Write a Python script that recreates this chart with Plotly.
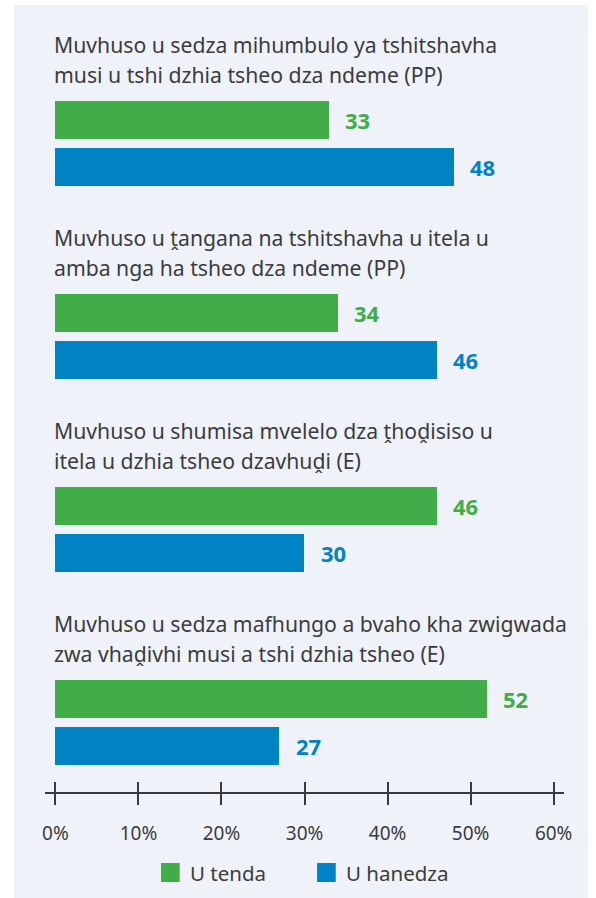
import plotly.graph_objects as go

# ---------------- data ----------------
title_line1 = [
    "Muvhuso u sedza mihumbulo ya tshitshavha",
    "Muvhuso u ṱangana na tshitshavha u itela u",
    "Muvhuso u shumisa mvelelo dza ṱhoḓisiso u",
    "Muvhuso u sedza mafhungo a bvaho kha zwigwada",
]
title_line2 = [
    "musi u tshi dzhia tsheo dza ndeme (PP)",
    "amba nga ha tsheo dza ndeme (PP)",
    "itela u dzhia tsheo dzavhuḓi (E)",
    "zwa vhaḓivhi musi a tshi dzhia tsheo (E)",
]
series_names = ["U tenda", "U hanedza"]
agree = [33, 34, 46, 52]
disagree = [48, 46, 30, 27]
tick_values = [0, 10, 20, 30, 40, 50, 60]
tick_labels = ["0%", "10%", "20%", "30%", "40%", "50%", "60%"]

# ---------------- style ----------------
GREEN = "#40ad49"
BLUE = "#0083c4"
TEXT = "#3c3c3c"
AXIS = "#3a3a3a"
PANEL = "#eff2f8"
FONT = "Noto Sans"
W, H = 596, 898
PLOT_BOTTOM = 792  # px from top where the x axis sits

n = len(agree)
step = 193
green_y = [120 + step * i for i in range(n)]
blue_y = [g + 46.5 for g in green_y]
t1_y = [44 + step * i for i in range(n)]
t2_y = [74 + step * i for i in range(n)]


def py(px):
    """figure pixel (from top) -> paper y"""
    return (PLOT_BOTTOM - px) / PLOT_BOTTOM


fig = go.Figure()
fig.add_trace(go.Bar(x=agree, y=green_y, orientation="h", width=38,
                     marker=dict(color=GREEN, line=dict(width=0)),
                     name=series_names[0], showlegend=False, hoverinfo="skip"))
fig.add_trace(go.Bar(x=disagree, y=blue_y, orientation="h", width=38,
                     marker=dict(color=BLUE, line=dict(width=0)),
                     name=series_names[1], showlegend=False, hoverinfo="skip"))
# invisible trace so the overlay axis (upward ticks) is drawn
fig.add_trace(go.Scatter(x=[None], y=[None], xaxis="x2", yaxis="y",
                         showlegend=False, hoverinfo="skip"))

TITLE_SIZE = 21.2
annotations = []
for i in range(n):
    annotations.append(dict(x=0, y=t1_y[i], xref="x", yref="y", text=title_line1[i],
                            showarrow=False, xanchor="left", yanchor="middle", xshift=-3,
                            font=dict(family=FONT, size=TITLE_SIZE, color=TEXT)))
    annotations.append(dict(x=0, y=t2_y[i], xref="x", yref="y", text=title_line2[i],
                            showarrow=False, xanchor="left", yanchor="middle", xshift=-3,
                            font=dict(family=FONT, size=TITLE_SIZE, color=TEXT)))
    annotations.append(dict(x=agree[i], y=green_y[i], xref="x", yref="y",
                            text="<b>%d</b>" % agree[i], showarrow=False,
                            xanchor="left", yanchor="middle", xshift=14,
                            font=dict(family=FONT, size=22, color=GREEN)))
    annotations.append(dict(x=disagree[i], y=blue_y[i], xref="x", yref="y",
                            text="<b>%d</b>" % disagree[i], showarrow=False,
                            xanchor="left", yanchor="middle", xshift=14,
                            font=dict(family=FONT, size=22, color=BLUE)))

# custom legend
legend_colors = [GREEN, BLUE]
legend_sq_x = [161, 320]
shapes = [dict(type="rect", xref="paper", yref="paper",
               x0=11 / W, x1=1, y0=py(H), y1=py(5),
               fillcolor=PANEL, line=dict(width=0), layer="below")]
for name, col, sx in zip(series_names, legend_colors, legend_sq_x):
    shapes.append(dict(type="rect", xref="paper", yref="paper",
                       x0=sx / W, x1=(sx + 19) / W, y0=py(882), y1=py(863),
                       fillcolor=col, line=dict(width=0)))
    annotations.append(dict(x=(sx + 27) / W, y=py(872.5), xref="paper", yref="paper",
                            text=name, showarrow=False, xanchor="left", yanchor="middle",
                            font=dict(family=FONT, size=20.5, color=TEXT)))

xr = [-1.23, 61.3]
fig.update_layout(
    width=W, height=H,
    margin=dict(l=0, r=0, t=0, b=H - PLOT_BOTTOM, pad=0),
    paper_bgcolor="white", plot_bgcolor="rgba(0,0,0,0)",
    font=dict(family=FONT, color=TEXT),
    showlegend=False,
    bargap=0,
    xaxis=dict(domain=[43 / W, 572 / W], range=xr, showgrid=False, zeroline=False,
               showline=True, linecolor=AXIS, linewidth=1.5,
               ticks="outside", ticklen=11, tickwidth=1.5, tickcolor=AXIS,
               tickmode="array", tickvals=tick_values, ticktext=tick_labels,
               tickfont=dict(family=FONT, size=19, color=TEXT),
               ticklabelstandoff=12, fixedrange=True),
    xaxis2=dict(overlaying="x", anchor="y", side="bottom", range=xr,
                showgrid=False, zeroline=False, showline=False,
                ticks="inside", ticklen=10, tickwidth=1.5, tickcolor=AXIS,
                tickmode="array", tickvals=tick_values, showticklabels=False,
                fixedrange=True),
    yaxis=dict(range=[PLOT_BOTTOM, 0], visible=False, fixedrange=True),
    annotations=annotations,
    shapes=shapes,
)

fig.write_html(
    "out.html",
    config={"displayModeBar": False},
    post_script="document.body.style.margin='0';document.body.style.overflow='hidden';",
)
